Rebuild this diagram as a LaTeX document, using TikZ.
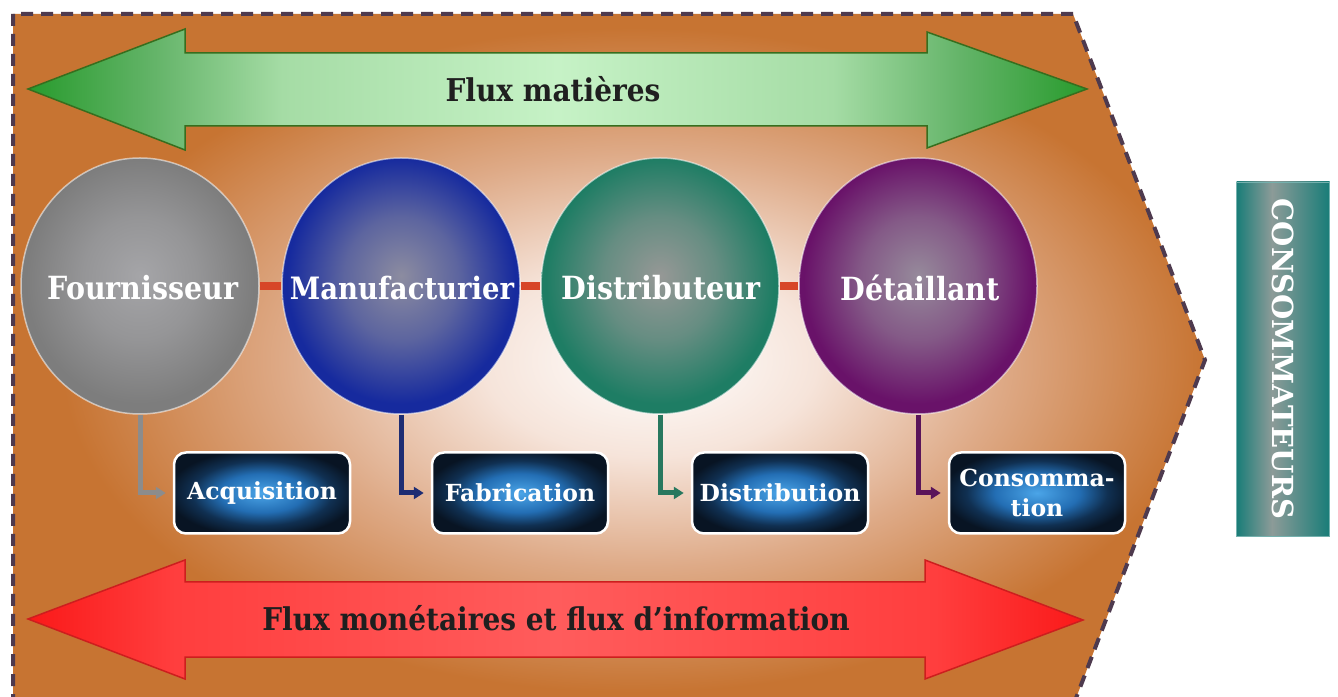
\documentclass[tikz,border=0pt]{standalone}
\usepackage{graphicx}
\usepackage{fontspec}
\setmainfont{DejaVu Serif}
\usetikzlibrary{shapes.geometric,arrows.meta}

% palette
\definecolor{bgorange}{RGB}{199,116,50}
\definecolor{bgmid}{RGB}{222,170,135}
\definecolor{bgpale}{RGB}{246,228,218}
\definecolor{bordercol}{RGB}{78,58,78}
\definecolor{gdark}{RGB}{40,155,45}
\definecolor{gmid}{RGB}{100,180,105}
\definecolor{glight}{RGB}{165,220,165}
\definecolor{gpale}{RGB}{198,242,198}
\definecolor{gline}{RGB}{55,110,30}
\definecolor{rdark}{RGB}{250,25,25}
\definecolor{rmid}{RGB}{255,62,62}
\definecolor{rpale}{RGB}{255,92,92}
\definecolor{rline}{RGB}{205,30,30}
\definecolor{grayedge}{RGB}{125,125,125}
\definecolor{graycore}{RGB}{165,165,168}
\definecolor{blueedge}{RGB}{22,42,158}
\definecolor{bluecore}{RGB}{140,140,160}
\definecolor{tealedge}{RGB}{30,125,100}
\definecolor{tealcore}{RGB}{150,152,150}
\definecolor{purpleedge}{RGB}{105,18,105}
\definecolor{purplecore}{RGB}{150,138,155}
\definecolor{cgray}{RGB}{140,140,140}
\definecolor{cblue}{RGB}{30,45,115}
\definecolor{cteal}{RGB}{40,120,95}
\definecolor{cpurple}{RGB}{90,20,90}
\definecolor{linkred}{RGB}{215,70,40}
\definecolor{boxlight}{RGB}{75,165,232}
\definecolor{boxmid}{RGB}{35,110,180}
\definecolor{boxdeep}{RGB}{16,48,82}
\definecolor{boxdark}{RGB}{8,20,35}
\definecolor{consteal}{RGB}{25,125,120}
\definecolor{consgray}{RGB}{140,155,152}

% shadings
\pgfdeclareradialshading{bgglow}{\pgfpoint{2bp}{0bp}}{color(0bp)=(white); color(7bp)=(bgpale); color(15bp)=(bgmid); color(24bp)=(bgorange); color(50bp)=(bgorange)}
\pgfdeclarehorizontalshading{greenflux}{100bp}{color(0bp)=(gdark); color(25bp)=(gdark); color(31bp)=(gmid); color(37bp)=(glight); color(50bp)=(gpale); color(63bp)=(glight); color(69bp)=(gmid); color(75bp)=(gdark); color(100bp)=(gdark)}
\pgfdeclarehorizontalshading{redflux}{100bp}{color(0bp)=(rdark); color(25bp)=(rdark); color(32bp)=(rmid); color(50bp)=(rpale); color(68bp)=(rmid); color(75bp)=(rdark); color(100bp)=(rdark)}
\pgfdeclareradialshading{ballgray}{\pgfpoint{0bp}{2bp}}{color(0bp)=(graycore); color(12bp)=(graycore!60!grayedge); color(24bp)=(grayedge); color(50bp)=(grayedge)}
\pgfdeclareradialshading{ballblue}{\pgfpoint{0bp}{2bp}}{color(0bp)=(bluecore); color(12bp)=(bluecore!60!blueedge); color(24bp)=(blueedge); color(50bp)=(blueedge)}
\pgfdeclareradialshading{ballteal}{\pgfpoint{0bp}{2bp}}{color(0bp)=(tealcore); color(12bp)=(tealcore!60!tealedge); color(24bp)=(tealedge); color(50bp)=(tealedge)}
\pgfdeclareradialshading{ballpurple}{\pgfpoint{0bp}{2bp}}{color(0bp)=(purplecore); color(12bp)=(purplecore!60!purpleedge); color(24bp)=(purpleedge); color(50bp)=(purpleedge)}
\pgfdeclareradialshading{boxglow}{\pgfpoint{0bp}{0bp}}{color(0bp)=(boxlight); color(12bp)=(boxmid); color(20bp)=(boxdeep); color(27bp)=(boxdark); color(50bp)=(boxdark)}
\pgfdeclarehorizontalshading{consshade}{100bp}{color(0bp)=(consteal); color(25bp)=(consteal); color(44bp)=(consgray); color(75bp)=(consteal); color(100bp)=(consteal)}

% taller lettering for the main labels
\newcommand\tallword[1]{\scalebox{1}[1.12]{#1}}

\tikzset{
  border/.style={draw=bordercol, line width=4pt, dash pattern=on 12pt off 8pt},
  fluxlabel/.style={font=\fontsize{28}{32}\selectfont\bfseries, text=black!88, inner sep=0pt},
  ball/.style={ellipse, minimum width=238pt, minimum height=256pt, inner sep=0pt,
    shade, draw=white, draw opacity=0.55, line width=1.5pt},
  balltext/.style={font=\fontsize{28.5}{32}\selectfont\bfseries, text=white, inner sep=0pt},
  redlink/.style={draw=linkred, line width=8pt},
  stepbox/.style={rectangle, rounded corners=12pt, minimum width=176pt, minimum height=81pt,
    shade, shading=boxglow, draw=white, line width=2.5pt, text=white,
    font=\fontsize{23.5}{30}\selectfont\bfseries, align=center, inner sep=0pt},
  flow/.style={line width=5pt, -{Triangle[length=10pt,width=12pt]}, shorten >=7pt},
  consbox/.style={rectangle, minimum width=93pt, minimum height=354pt, shade, shading=consshade,
    draw=consteal!60!white, line width=0.8pt},
  constext/.style={font=\fontsize{29}{32}\selectfont\bfseries, text=white, inner sep=0pt}
}

\begin{document}
\begin{tikzpicture}[x=1pt,y=1pt]
\useasboundingbox (0,0) rectangle (1338,696);
\fill[white] (0,0) rectangle (1338,696);

% chevron background with dashed outline
\begin{scope}
  \clip (0,0) rectangle (1338,696);
  \shade[shading=bgglow] (13,682) -- (1073,682) -- (1205,336) -- (1073,-10) -- (13,-10) -- cycle;
  \draw[border] (13,-10) -- (13,682) -- (1073,682) -- (1205,336) -- (1073,-10);
\end{scope}

% material flow (top double arrow)
\shadedraw[shading=greenflux, draw=gline, line width=1.5pt]
  (28,607) -- (185,667) -- (185,643) -- (927,643) -- (927,664) -- (1087,607)
  -- (927,548) -- (927,570) -- (185,570) -- (185,546) -- cycle;
\node[fluxlabel] (matieres) at (553,607) {\tallword{Flux matières}};

% money and information flow (bottom double arrow)
\shadedraw[shading=redflux, draw=rline, line width=1.5pt]
  (28,77) -- (185,136) -- (185,114) -- (925,114) -- (925,136) -- (1083,76)
  -- (925,17) -- (925,39) -- (185,39) -- (185,17) -- cycle;
\node[fluxlabel] (monetaires) at (556,78) {\tallword{Flux monétaires et flux d’information}};

% actors of the chain
\node[ball, shading=ballgray]   (four) at (140,410) {};
\node[ball, shading=ballblue]   (manu) at (401,410) {};
\node[ball, shading=ballteal]   (dist) at (660,410) {};
\node[ball, shading=ballpurple] (deta) at (918,410) {};

\draw[redlink] (four.east) -- (manu.west);
\draw[redlink] (manu.east) -- (dist.west);
\draw[redlink] (dist.east) -- (deta.west);

\node[balltext] (fourT) at (143,408) {\tallword{Fournisseur}};
\node[balltext, font=\fontsize{27.5}{32}\selectfont\bfseries] (manuT) at (402,408) {\tallword{Manufacturier}};
\node[balltext] (distT) at (661,408) {\tallword{Distributeur}};
\node[balltext] (detaT) at (920,408) {\tallword{Détaillant}};

% activities
\node[stepbox] (acq)  at (262,203) {Acquisition};
\node[stepbox] (fab)  at (520,203) {Fabrication};
\node[stepbox] (dis)  at (780,203) {Distribution};
\node[stepbox] (cons) at (1037,203) {Consomma-\\tion};

\draw[flow, draw=cgray, color=cgray]     (four.south) |- (acq.west);
\draw[flow, draw=cblue, color=cblue]     (manu.south) |- (fab.west);
\draw[flow, draw=cteal, color=cteal]     (dist.south) |- (dis.west);
\draw[flow, draw=cpurple, color=cpurple] (deta.south) |- (cons.west);

% end customer
\node[consbox] (consom) at (1283,337) {};
\node[constext, rotate=-90] (consomT) at (consom.center) {CONSOMMATEURS};
\end{tikzpicture}
\end{document}
